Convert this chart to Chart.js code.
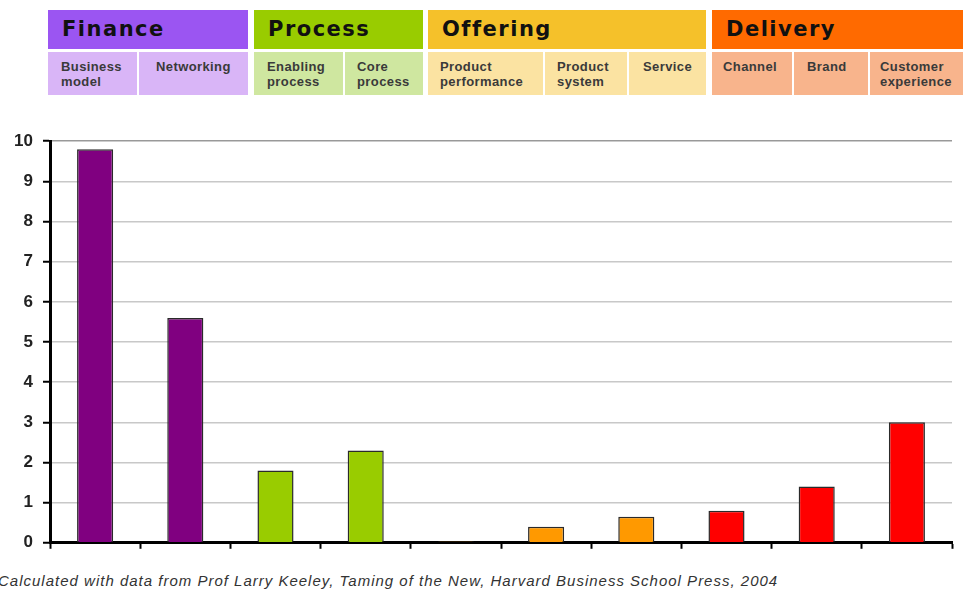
<!DOCTYPE html>
<html>
<head>
<meta charset="utf-8">
<script src="https://cdn.jsdelivr.net/npm/chart.js@4"></script>
<style>
body { margin: 0; width: 963px; height: 591px; background: #fff; position: relative; overflow: hidden; font-family: "Liberation Sans", Arial, sans-serif; }
.box { position: absolute; box-sizing: border-box; white-space: nowrap; }
.head { top: 10px; height: 39px; font-family: "DejaVu Sans", sans-serif; font-weight: bold; font-size: 21px; letter-spacing: 1.5px; padding-left: 14px; line-height: 39px; color: #111; }
.sub { top: 52px; height: 43px; font-size: 13px; letter-spacing: 0.4px; font-weight: bold; color: #3a3a3a; padding: 7px 0 0 13px; line-height: 15px; }
#wrap { position: absolute; left: 0; top: 121px; width: 963px; height: 442px; }
#caption { position: absolute; left: -2px; top: 572px; font-style: italic; font-size: 15px; letter-spacing: 1px; color: #333; white-space: nowrap; }
</style>
</head>
<body>
<div id="cabecera"></div>
<div id="wrap"><canvas id="grafico" width="963" height="442"></canvas></div>
<div id="caption">Calculated with data from Prof Larry Keeley, Taming of the New, Harvard Business School Press, 2004</div>
<script>
// --- DATOS ---
const grupos = ['Finance', 'Process', 'Offering', 'Delivery'];
const categorias = ['Business\nmodel', 'Networking', 'Enabling\nprocess', 'Core\nprocess', 'Product\nperformance', 'Product\nsystem', 'Service', 'Channel', 'Brand', 'Customer\nexperience'];
const grupoDeCategoria = ['Finance', 'Finance', 'Process', 'Process', 'Offering', 'Offering', 'Offering', 'Delivery', 'Delivery', 'Delivery'];
const valores = [9.8, 5.6, 1.8, 2.3, 0.03, 0.4, 0.65, 0.8, 1.4, 3.0];
const ticksY = [0, 1, 2, 3, 4, 5, 6, 7, 8, 9, 10];

// --- ESTILOS ---
const colorBarra = { Finance: '#800080', Process: '#99cc00', Offering: '#ff9900', Delivery: '#ff0000' };
const colorCabecera = { Finance: '#9b55f2', Process: '#99cc00', Offering: '#f5c12a', Delivery: '#ff6a00' };
const colorSub = { Finance: '#d9b5f7', Process: '#cfe7a0', Offering: '#fbe3a2', Delivery: '#f8b48c' };
// posiciones [izquierda, derecha] en px
const posGrupo = [[48, 248], [254, 423], [428, 706], [712, 963]];
const posSub = [[48, 137], [139, 248], [254, 343], [345, 423], [428, 543], [545, 627], [629, 706], [712, 792], [794, 868], [870, 963]];
const padSub = [13, 17, 13, 12, 12, 12, 14, 11, 13, 10];

// --- CABECERA ---
const cab = document.getElementById('cabecera');
grupos.forEach((g, i) => {
    const d = document.createElement('div');
    d.className = 'box head';
    d.style.left = posGrupo[i][0] + 'px';
    d.style.width = (posGrupo[i][1] - posGrupo[i][0]) + 'px';
    d.style.background = colorCabecera[g];
    d.textContent = g;
    cab.appendChild(d);
});
categorias.forEach((c, i) => {
    const d = document.createElement('div');
    d.className = 'box sub';
    d.style.left = posSub[i][0] + 'px';
    d.style.width = (posSub[i][1] - posSub[i][0]) + 'px';
    d.style.paddingLeft = padSub[i] + 'px';
    d.style.background = colorSub[grupoDeCategoria[i]];
    d.innerHTML = c.replace('\n', '<br>');
    cab.appendChild(d);
});

// --- GRAFICO ---
const ctx = document.getElementById('grafico').getContext('2d');
new Chart(ctx, {
    type: 'bar',
    data: {
        labels: categorias,
        datasets: [{
            data: valores,
            backgroundColor: grupoDeCategoria.map(g => colorBarra[g]),
            borderColor: '#2a2a2a',
            borderWidth: 1.5,
            barPercentage: 0.4,
            categoryPercentage: 1
        }]
    },
    options: {
        responsive: false,
        animation: false,
        layout: { padding: { top: 10, right: 11, left: 0, bottom: 0 } },
        plugins: { legend: { display: false }, tooltip: { enabled: false } },
        scales: {
            x: {
                grid: { display: true, offset: true, drawOnChartArea: false, drawTicks: true, tickLength: 6, tickColor: '#000', tickWidth: 2 },
                border: { color: '#000', width: 3 },
                ticks: { display: false },
                afterFit: s => { s.height = 17; }
            },
            y: {
                min: 0,
                max: 10,
                afterBuildTicks: s => { s.ticks = ticksY.map(v => ({ value: v })); },
                ticks: { font: { family: 'Liberation Sans', weight: 'bold', size: 17 }, color: '#222', padding: 10 },
                grid: { color: c => c.tick && c.tick.value === 10 ? '#999' : '#c8c8c8', lineWidth: 1.5, tickColor: '#000', tickWidth: 2, tickLength: 7 },
                border: { color: '#000', width: 3 },
                afterFit: s => { s.width = 50; }
            }
        }
    }
});
</script>
</body>
</html>
